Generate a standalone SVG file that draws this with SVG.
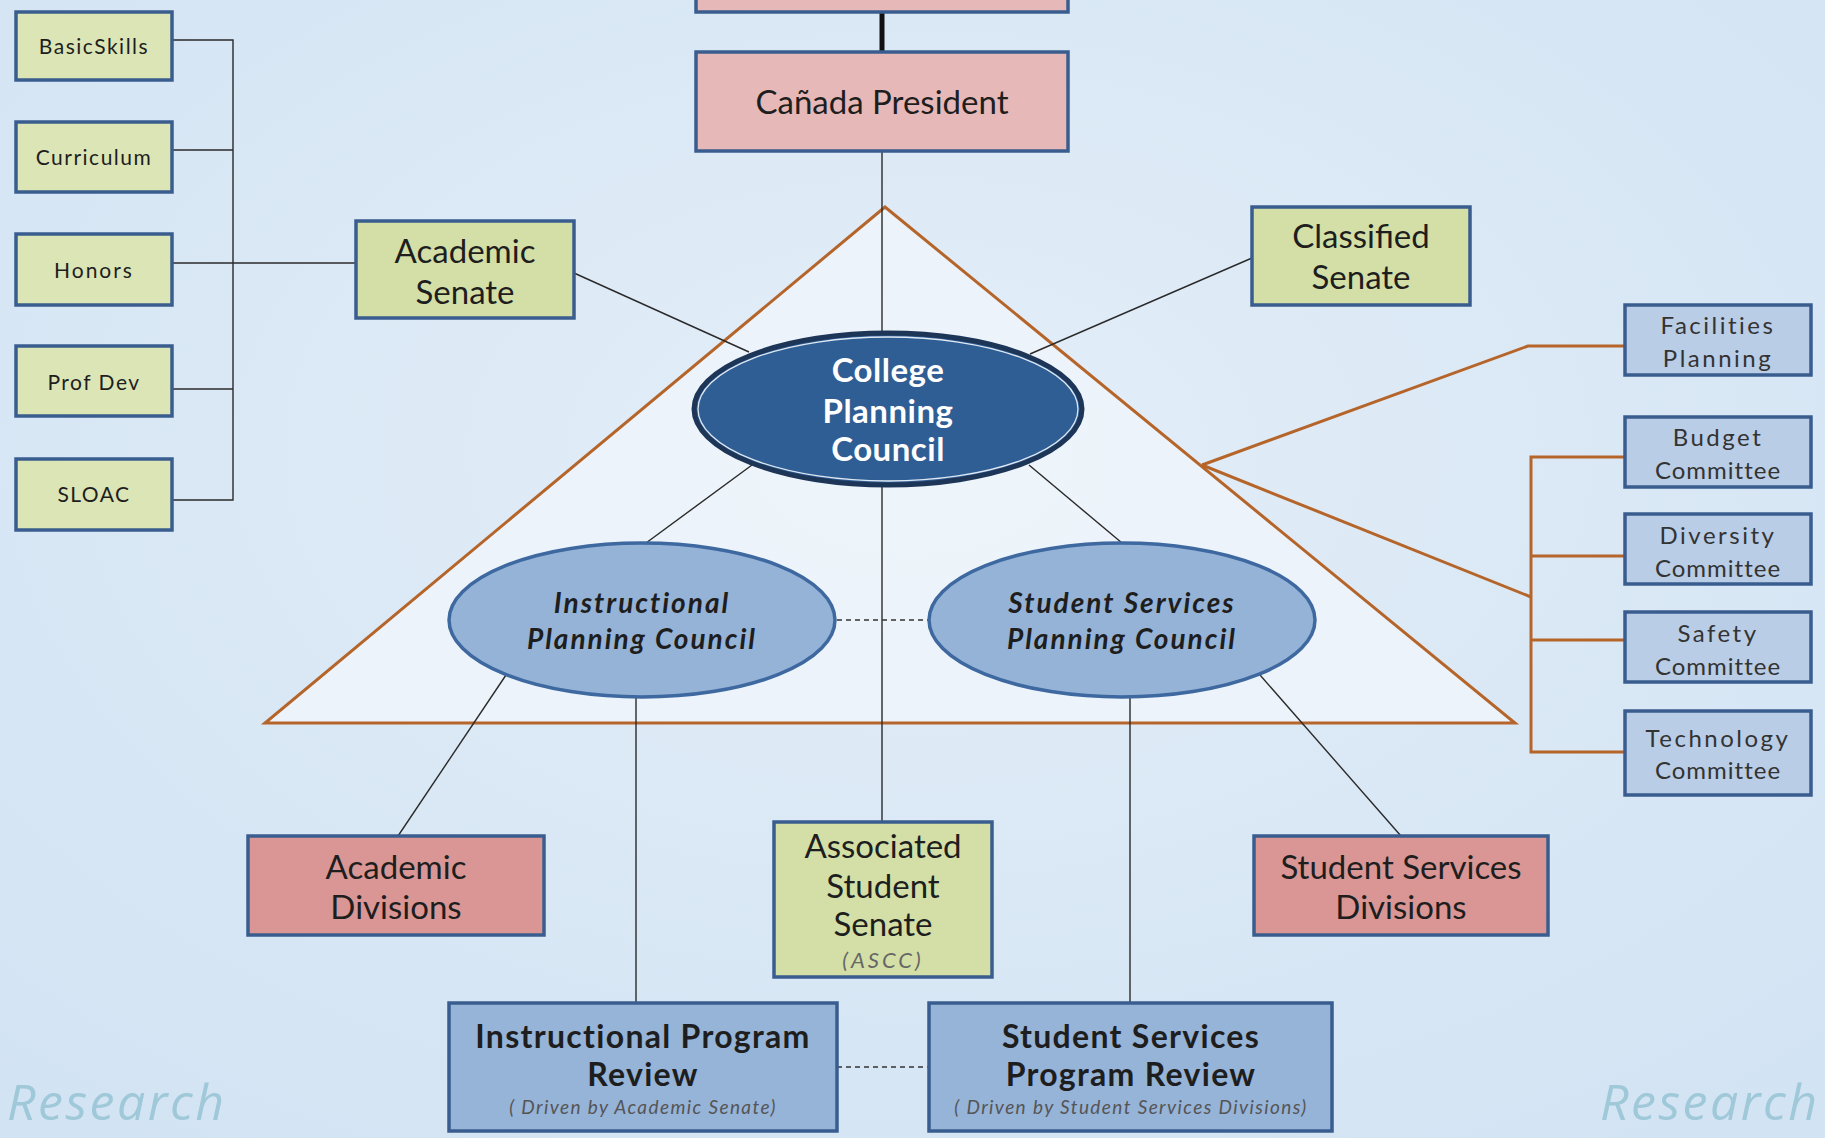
<svg xmlns="http://www.w3.org/2000/svg" width="1825" height="1138" viewBox="0 0 1825 1138">
<defs>
<style>
.t{font-family:Lato,"Open Sans","Liberation Sans",sans-serif;text-anchor:middle;dominant-baseline:central;fill:#1e1e1e}
.sm{font-size:21px;letter-spacing:1.5px}
.big{font-size:33px}
.ell{font-size:28px;font-weight:bold;font-style:italic;letter-spacing:2px}
.rv{font-size:32px;font-weight:bold;letter-spacing:1.3px}
.drv{font-size:19px;font-style:italic;letter-spacing:1.4px;fill:#555}
.cm{font-size:24px;letter-spacing:2.5px;fill:#333}
.cm2{font-size:24px;letter-spacing:1px;fill:#333}
.box{stroke:#3a5d8f;stroke-width:3.5}
.green{fill:#d3dfa6}
.lgreen{fill:#dce5b5}
.pink{fill:#e6b8b7}
.salmon{fill:#d99694}
.blue{fill:#96b3d8}
.lblue{fill:#b9cde6}
.ln{stroke:#2a2a2a;stroke-width:1.4;fill:none}
.or{stroke:#b5652a;stroke-width:3;fill:none}
.dash{stroke:#333;stroke-width:1.6;stroke-dasharray:5 4;fill:none}
.wm{font-family:"Open Sans",Lato,"Liberation Sans",sans-serif;font-style:italic;font-size:50px;letter-spacing:2.5px;fill:#9fc8d8}
</style>
<radialGradient id="bg" cx="50%" cy="40%" r="75%">
<stop offset="0" stop-color="#e3eef8"/>
<stop offset="1" stop-color="#d2e3f3"/>
</radialGradient>
</defs>
<rect x="0" y="0" width="1825" height="1138" fill="url(#bg)"/>

<!-- triangle background -->
<polygon id="triangle" points="885,207 265,723 1515,723" fill="#eef4fa" fill-opacity="0.85" stroke="#b5652a" stroke-width="3"/>

<g id="connectors">
<line x1="882" y1="10" x2="882" y2="52" stroke="#111" stroke-width="5"/>
<line class="ln" x1="882" y1="151" x2="882" y2="332"/>
<polyline class="ln" points="172,40 233,40 233,500 172,500"/>
<line class="ln" x1="172" y1="150" x2="233" y2="150"/>
<line class="ln" x1="172" y1="263" x2="356" y2="263"/>
<line class="ln" x1="172" y1="389" x2="233" y2="389"/>
<line class="ln" x1="574" y1="273" x2="749" y2="352"/>
<line class="ln" x1="1252" y1="258" x2="1030" y2="354"/>
<line class="ln" x1="752" y1="465" x2="646" y2="543"/>
<line class="ln" x1="1029" y1="465" x2="1122" y2="543"/>
<line class="ln" x1="882" y1="487" x2="882" y2="822"/>
<line class="dash" x1="837" y1="620" x2="929" y2="620"/>
<line class="ln" x1="506" y1="675" x2="398" y2="836"/>
<line class="ln" x1="636" y1="698" x2="636" y2="1003"/>
<line class="ln" x1="1130" y1="698" x2="1130" y2="1003"/>
<line class="ln" x1="1260" y1="675" x2="1401" y2="836"/>
<line class="dash" x1="837" y1="1067" x2="929" y2="1067"/>
<polyline class="or" points="1202,465 1528,346 1625,346"/>
<line class="or" x1="1202" y1="465" x2="1531" y2="597"/>
<polyline class="or" points="1625,457 1531,457 1531,752 1625,752"/>
<line class="or" x1="1531" y1="556" x2="1625" y2="556"/>
<line class="or" x1="1531" y1="640" x2="1625" y2="640"/>
</g>

<g id="top-box">
<rect class="box pink" x="696" y="-20" width="372" height="32"/>
</g>

<g id="president">
<rect class="box pink" x="696" y="52" width="372" height="99"/>
<text class="t big" x="882" y="101">Cañada President</text>
</g>

<g id="basic-skills">
<rect class="box lgreen" x="16" y="12" width="156" height="68"/>
<text class="t sm" x="94" y="45">BasicSkills</text>
</g>
<g id="curriculum">
<rect class="box lgreen" x="16" y="122" width="156" height="70"/>
<text class="t sm" x="94" y="156">Curriculum</text>
</g>
<g id="honors">
<rect class="box lgreen" x="16" y="234" width="156" height="71"/>
<text class="t sm" x="94" y="269" style="letter-spacing:2px">Honors</text>
</g>
<g id="prof-dev">
<rect class="box lgreen" x="16" y="346" width="156" height="70"/>
<text class="t sm" x="94" y="381">Prof Dev</text>
</g>
<g id="sloac">
<rect class="box lgreen" x="16" y="459" width="156" height="71"/>
<text class="t sm" x="94" y="493">SLOAC</text>
</g>

<g id="academic-senate">
<rect class="box green" x="356" y="221" width="218" height="97"/>
<text class="t big" x="465" y="250">Academic</text>
<text class="t big" x="465" y="291">Senate</text>
</g>

<g id="classified-senate">
<rect class="box green" x="1252" y="207" width="218" height="98"/>
<text class="t big" x="1361" y="235">Classified</text>
<text class="t big" x="1361" y="276">Senate</text>
</g>

<g id="college-planning-council">
<ellipse cx="888" cy="409" rx="194" ry="76" fill="#2f5e95" stroke="#1d3556" stroke-width="5"/>
<ellipse cx="888" cy="409" rx="190" ry="72" fill="none" stroke="#dfe8f2" stroke-width="1.3"/>
<text class="t big" x="888" y="369" font-weight="bold" style="fill:#fff;letter-spacing:0.5px">College</text>
<text class="t big" x="888" y="410" font-weight="bold" style="fill:#fff;letter-spacing:0.5px">Planning</text>
<text class="t big" x="888" y="448" font-weight="bold" style="fill:#fff;letter-spacing:0.5px">Council</text>
</g>

<g id="instructional-planning-council">
<ellipse cx="642" cy="620" rx="193" ry="77" fill="#95b3d7" stroke="#3e68a0" stroke-width="3.5"/>
<text class="t ell" x="642" y="602">Instructional</text>
<text class="t ell" x="642" y="638">Planning Council</text>
</g>

<g id="student-services-planning-council">
<ellipse cx="1122" cy="620" rx="193" ry="77" fill="#95b3d7" stroke="#3e68a0" stroke-width="3.5"/>
<text class="t ell" x="1122" y="602">Student Services</text>
<text class="t ell" x="1122" y="638">Planning Council</text>
</g>

<g id="academic-divisions">
<rect class="box salmon" x="248" y="836" width="296" height="99"/>
<text class="t big" x="396" y="866">Academic</text>
<text class="t big" x="396" y="906">Divisions</text>
</g>

<g id="associated-student-senate">
<rect class="box green" x="774" y="822" width="218" height="155"/>
<text class="t big" x="883" y="845">Associated</text>
<text class="t big" x="883" y="885">Student</text>
<text class="t big" x="883" y="923">Senate</text>
<text class="t" x="883" y="959" font-size="22" font-style="italic" style="fill:#666;letter-spacing:3px">(ASCC)</text>
</g>

<g id="student-services-divisions">
<rect class="box salmon" x="1254" y="836" width="294" height="99"/>
<text class="t big" x="1401" y="866">Student Services</text>
<text class="t big" x="1401" y="906">Divisions</text>
</g>

<g id="instructional-program-review">
<rect class="box blue" x="449" y="1003" width="388" height="128"/>
<text class="t rv" x="643" y="1035">Instructional Program</text>
<text class="t rv" x="643" y="1073">Review</text>
<text class="t drv" x="643" y="1106">( Driven by Academic Senate)</text>
</g>

<g id="student-services-program-review">
<rect class="box blue" x="929" y="1003" width="403" height="128"/>
<text class="t rv" x="1131" y="1035">Student Services</text>
<text class="t rv" x="1131" y="1073">Program Review</text>
<text class="t drv" x="1131" y="1106">( Driven by Student Services Divisions)</text>
</g>

<g id="facilities-planning">
<rect class="box lblue" x="1625" y="305" width="186" height="70"/>
<text class="t cm" x="1718" y="324">Facilities</text>
<text class="t cm" x="1718" y="357">Planning</text>
</g>
<g id="budget-committee">
<rect class="box lblue" x="1625" y="417" width="186" height="70"/>
<text class="t cm" x="1718" y="436">Budget</text>
<text class="t cm2" x="1718" y="469">Committee</text>
</g>
<g id="diversity-committee">
<rect class="box lblue" x="1625" y="514" width="186" height="70"/>
<text class="t cm" x="1718" y="534">Diversity</text>
<text class="t cm2" x="1718" y="567">Committee</text>
</g>
<g id="safety-committee">
<rect class="box lblue" x="1625" y="612" width="186" height="70"/>
<text class="t cm" x="1718" y="632">Safety</text>
<text class="t cm2" x="1718" y="665">Committee</text>
</g>
<g id="technology-committee">
<rect class="box lblue" x="1625" y="711" width="186" height="84"/>
<text class="t cm" x="1718" y="737">Technology</text>
<text class="t cm2" x="1718" y="769">Committee</text>
</g>

<text class="wm" x="7" y="1120">Research</text>
<text class="wm" x="1600" y="1120">Research</text>
</svg>
